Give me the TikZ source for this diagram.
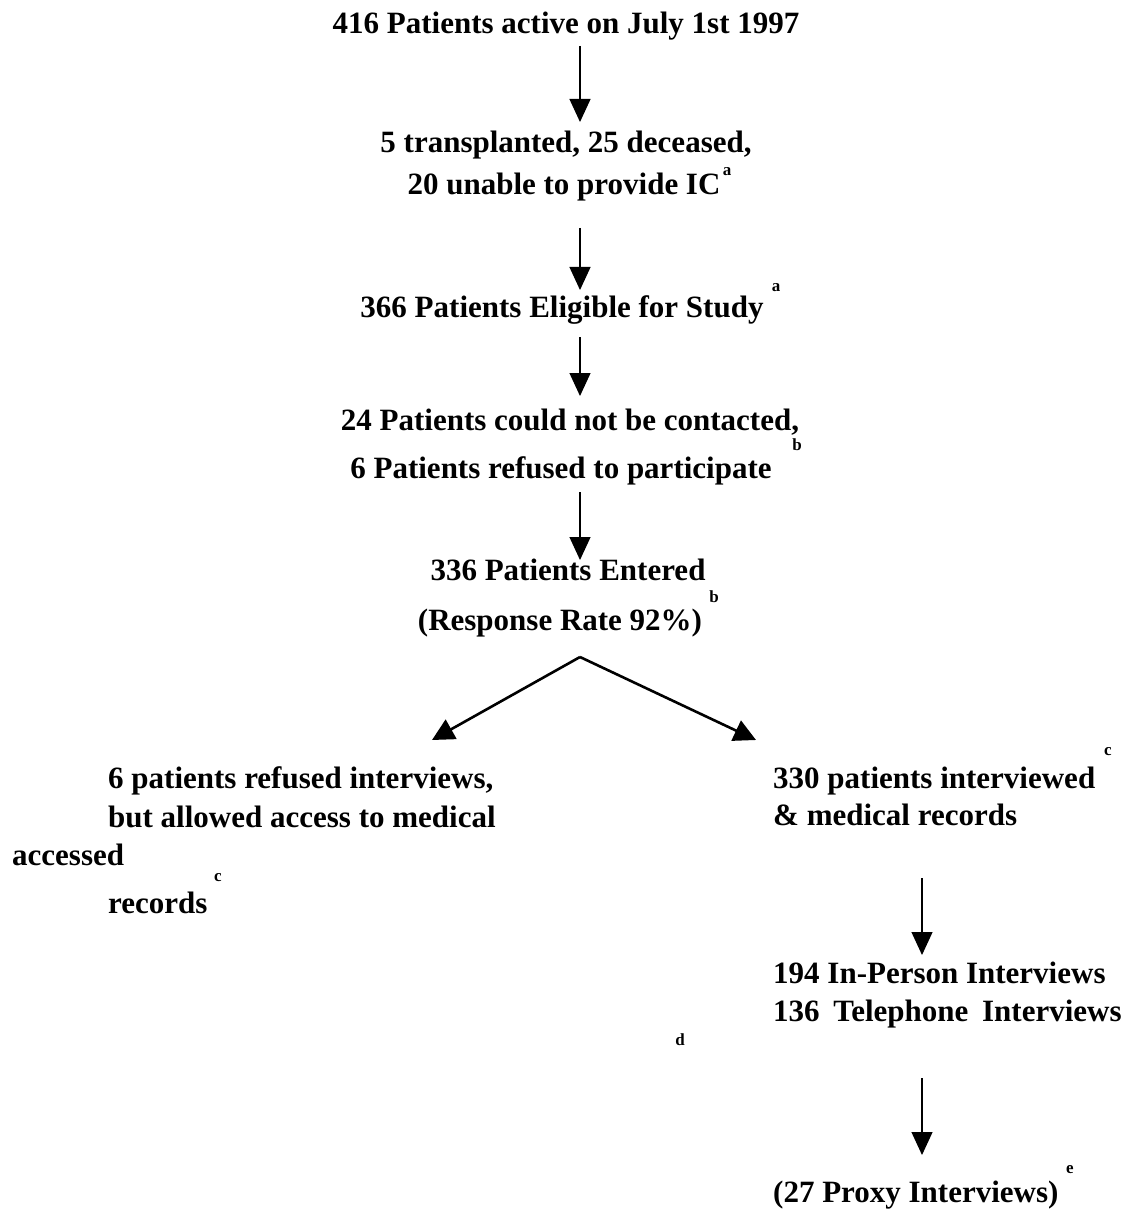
\documentclass[tikz,border=0pt]{standalone}
\usepackage{fontspec}
\setmainfont{Liberation Serif}
\usetikzlibrary{arrows.meta}
\begin{document}
\begin{tikzpicture}[x=1pt,y=-1pt,
  txt/.style={font=\fontsize{31}{37}\selectfont\bfseries, inner sep=0pt, anchor=base},
  ltxt/.style={txt, anchor=base west},
  sup/.style={font=\fontsize{17}{17}\selectfont\bfseries, inner sep=0pt},
  arr/.style={line width=1.2pt, -{Triangle[width=21pt,length=23pt]}},
  darr/.style={line width=2.6pt, -{Triangle[width=22pt,length=22pt]}}]
\useasboundingbox (0,0) rectangle (1134,1214);

% main column
\node[txt] (n1) at (566,34) {416 Patients active on July 1st 1997};
\node[txt] (n2a) at (566,153) {5 transplanted, 25 deceased,};
\node[txt] (n2b) at (564,195) {20 unable to provide IC};
\node[sup] (sa1) at (727,172) {a};
\node[txt] (n3) at (562,317) {366 Patients Eligible for Study};
\node[sup] (sa2) at (776,288) {a};
\node[txt] (n4a) at (570,430) {24 Patients could not be contacted,};
\node[txt] (n4b) at (561,478) {6 Patients refused to participate};
\node[sup] (sb1) at (797,445) {b};
\node[txt] (n5a) at (568,580) {336 Patients Entered};
\node[txt] (n5b) at (560,630) {(Response Rate 92\%)};
\node[sup] (sb2) at (714,597) {b};

% left branch
\node[ltxt] (l1) at (108,788) {6 patients refused interviews,};
\node[ltxt] (l2) at (108,827) {but allowed access to medical};
\node[ltxt] (l3) at (12,865) {accessed};
\node[ltxt] (l4) at (108,913) {records};
\node[sup] (sc1) at (218,878) {c};

% right branch
\node[ltxt] (r1) at (773,788) {330 patients interviewed};
\node[ltxt] (r2) at (773,825) {\& medical records};
\node[sup] (sc2) at (1108,752) {c};
\node[ltxt] (r3) at (773,983) {194 In-Person Interviews};
\node[ltxt] (r4) at (773,1021) {136\hspace{6pt} Telephone\hspace{6pt} Interviews};
\node[sup] (sd) at (680,1040) {d};
\node[ltxt] (r5) at (773,1202) {(27 Proxy Interviews)};
\node[sup] (se) at (1070,1170) {e};

% arrow coordinates
\coordinate (t1) at (580,122);
\coordinate (t2) at (580,290);
\coordinate (t3) at (580,396);
\coordinate (t4) at (580,560);
\coordinate (apex) at (580,657);
\coordinate (tl) at (432,740);
\coordinate (tr) at (756,740);
\coordinate (t5) at (922,955);
\coordinate (t6) at (922,1155);

\draw[arr] (n1.south -| t1) ++(0,5) -- (t1);
\draw[arr] (580,228) -- (t2);
\draw[arr] (580,337) -- (t3);
\draw[arr] (580,492) -- (t4);
\draw[darr] (apex) -- (tl);
\draw[darr] (apex) -- (tr);
\draw[arr] (922,878) -- (t5);
\draw[arr] (922,1078) -- (t6);
\end{tikzpicture}
\end{document}
